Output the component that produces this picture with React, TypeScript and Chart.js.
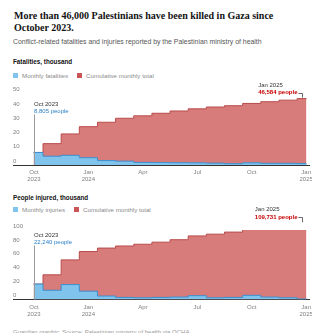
import React, { useEffect, useRef } from "react";
import { Chart, registerables } from "chart.js";

Chart.register(...registerables);

// ---------- data (thousands) ----------
const months = [
  "Oct 2023", "Nov 2023", "Dec 2023", "Jan 2024", "Feb 2024", "Mar 2024", "Apr 2024", "May 2024",
  "Jun 2024", "Jul 2024", "Aug 2024", "Sep 2024", "Oct 2024", "Nov 2024", "Dec 2024", "Jan 2025",
];
const firstDay = 16; // first day covered in the first month
const lastDay = 17; // last day covered in the last month

const monthlyFatalities = [8.8, 6.2, 6.8, 5.1, 3.1, 2.7, 1.8, 1.7, 1.6, 1.5, 1.3, 0.9, 1.5, 1.2, 1.2, 1.0];
const cumulativeFatalities = [8.8, 15.0, 21.8, 26.9, 30.0, 32.8, 34.5, 36.3, 37.9, 39.4, 40.7, 41.6, 43.2, 44.4, 45.5, 46.6];

const monthlyInjuries = [22.2, 13.3, 21.5, 12.0, 5.0, 3.0, 2.5, 3.0, 3.5, 5.5, 2.5, 3.0, 6.0, 3.5, 2.5, 0.7];
const cumulativeInjuries = [22.2, 35.5, 57.0, 69.0, 74.0, 77.0, 79.5, 82.5, 86.0, 91.5, 94.0, 97.0, 103.0, 106.5, 109.0, 109.7];

const tickMonths = [0, 3, 6, 9, 12, 15];
const tickLabels = [["Oct", "2023"], ["Jan", "2024"], ["Apr"], ["Jul"], ["Oct"], ["Jan", "2025"]];

const fatalityMax = 50;
const fatalityStep = 10;
const injuryMax = 100;
const injuryStep = 20;

// ---------- styles ----------
const SANS = '"Liberation Sans", Arial, sans-serif';
const SERIF = '"Liberation Serif", "Times New Roman", serif';
const BLUE_FILL = "#80c3ec";
const BLUE_LINE = "#3a90d2";
const RED_FILL = "#d87b7b";
const RED_LINE = "#b94c4c";
const BLUE_TEXT = "#2a80c8";
const RED_TEXT = "#c70000";
const GREY = "#808080";

function monthPos(i: number, day: number) {
  return i + (day - 1) / 31;
}

function stepPoints(values: number[]) {
  const pts = values.map((v, i) => ({ x: i === 0 ? monthPos(0, firstDay) : i, y: v }));
  pts.push({ x: monthPos(values.length - 1, lastDay), y: values[values.length - 1] });
  return pts;
}

type Panel = {
  monthly: number[];
  cumulative: number[];
  max: number;
  step: number;
  padTop: number;
  xAxisHeight: number;
  leftTitle: string;
  leftValue: string;
  leftOffset: number;
  rightTitle: string;
  rightValue: string;
};

function annotationPlugin(p: Panel) {
  return {
    id: "anno",
    afterDatasetsDraw(chart: any) {
      const { ctx, chartArea } = chart;
      const x = chart.scales.x;
      const y = chart.scales.y;
      ctx.save();
      ctx.textBaseline = "middle";
      ctx.textAlign = "left";
      // left annotation
      const lx = Math.round(x.getPixelForValue(monthPos(0, firstDay))) + 0.5;
      const l1 = chartArea.top + p.leftOffset;
      const l2 = l1 + 7;
      ctx.font = `6px ${SANS}`;
      ctx.fillStyle = "#333";
      ctx.fillText(p.leftTitle, lx - 0.5, l1);
      ctx.fillStyle = BLUE_TEXT;
      ctx.fillText(p.leftValue, lx - 0.5, l2);
      ctx.strokeStyle = "#9a9a9a";
      ctx.lineWidth = 1;
      ctx.beginPath();
      ctx.moveTo(lx, l2 + 3.5);
      ctx.lineTo(lx, chartArea.bottom);
      ctx.stroke();
      // right annotation
      const last = p.cumulative.length - 1;
      const endX = x.getPixelForValue(monthPos(last, lastDay));
      const topY = y.getPixelForValue(p.cumulative[last]);
      const leaderX = Math.round(endX - 4) + 0.5;
      const r2 = topY - 6;
      const r1 = r2 - 7.5;
      ctx.font = `bold 6px ${SANS}`;
      const w2 = ctx.measureText(p.rightValue).width;
      const textRight = leaderX - 5;
      const textLeft = textRight - w2;
      ctx.fillStyle = RED_TEXT;
      ctx.fillText(p.rightValue, textLeft, r2);
      ctx.font = `6px ${SANS}`;
      ctx.fillStyle = "#333";
      ctx.fillText(p.rightTitle, textLeft, r1);
      ctx.strokeStyle = "#666";
      ctx.beginPath();
      ctx.moveTo(textRight + 1, Math.round(r2) + 0.5);
      ctx.lineTo(leaderX, Math.round(r2) + 0.5);
      ctx.lineTo(leaderX, topY - 1);
      ctx.stroke();
      ctx.restore();
    },
  };
}

function makeConfig(p: Panel): any {
  return {
    type: "line",
    data: {
      datasets: [
        {
          label: "monthly",
          data: stepPoints(p.monthly),
          stepped: "before",
          fill: "origin",
          backgroundColor: BLUE_FILL,
          borderColor: BLUE_LINE,
          borderWidth: 1,
          pointRadius: 0,
        },
        {
          label: "cumulative",
          data: stepPoints(p.cumulative),
          stepped: "before",
          fill: "origin",
          backgroundColor: RED_FILL,
          borderColor: RED_LINE,
          borderWidth: 1,
          pointRadius: 0,
        },
      ],
    },
    options: {
      responsive: false,
      animation: false,
      events: [],
      layout: { padding: { left: 13, right: 3, top: p.padTop, bottom: 0 } },
      plugins: { legend: { display: false }, tooltip: { enabled: false } },
      scales: {
        x: {
          type: "linear",
          bounds: "data",
          min: -0.653,
          max: 15.656,
          z: 1,
          afterBuildTicks: (s: any) => {
            s.ticks = tickMonths.map((m) => ({ value: m + 0.5 }));
          },
          afterFit: (s: any) => {
            s.height = p.xAxisHeight;
            s.paddingLeft = 0;
            s.paddingRight = 0;
          },
          grid: { display: false, drawTicks: false },
          border: { display: true, color: "#333", width: 1 },
          ticks: {
            callback: (_v: any, i: number) => tickLabels[i],
            font: { size: 6, family: SANS, lineHeight: 1.2 },
            color: GREY,
            padding: 4,
            maxRotation: 0,
            autoSkip: false,
          },
        },
        y: {
          min: 0,
          max: p.max,
          afterFit: (s: any) => {
            s.width = 0;
            s.paddingTop = 0;
            s.paddingBottom = 0;
          },
          grid: { display: false, drawTicks: false },
          border: { display: false },
          ticks: {
            stepSize: p.step,
            mirror: true,
            padding: 0,
            labelOffset: -4,
            font: { size: 6, family: SANS },
            color: GREY,
          },
        },
      },
    },
    plugins: [annotationPlugin(p)],
  };
}

function PanelChart({ panel, top, height }: { panel: Panel; top: number; height: number }) {
  const ref = useRef<HTMLCanvasElement | null>(null);
  useEffect(() => {
    if (!ref.current) return;
    const chart = new Chart(ref.current, makeConfig(panel));
    return () => chart.destroy();
  }, [panel]);
  return (
    <canvas
      ref={ref}
      width={312}
      height={height}
      style={{ position: "absolute", left: 0, top, width: 312, height }}
    />
  );
}

function Legend({ top, monthlyLabel, gap }: { top: number; monthlyLabel: string; gap: number }) {
  const sq = (c: string) => (
    <span style={{ display: "inline-block", width: 5, height: 5, background: c, marginRight: 4 }} />
  );
  return (
    <div
      style={{
        position: "absolute",
        left: 13,
        top,
        height: 8,
        display: "flex",
        alignItems: "center",
        fontFamily: SANS,
        fontSize: 6.2,
        color: "#8a8a8a",
        whiteSpace: "nowrap",
      }}
    >
      {sq(BLUE_FILL)}
      <span style={{ marginRight: gap }}>{monthlyLabel}</span>
      {sq("#c95555")}
      <span>Cumulative monthly total</span>
    </div>
  );
}

const fatalPanel: Panel = {
  monthly: monthlyFatalities,
  cumulative: cumulativeFatalities,
  max: fatalityMax,
  step: fatalityStep,
  padTop: 17.75,
  xAxisHeight: 21,
  leftTitle: "Oct 2023",
  leftValue: "8,805 people",
  leftOffset: 10.25,
  rightTitle: "Jan 2025",
  rightValue: "46,584 people",
};

const injuredPanel: Panel = {
  monthly: monthlyInjuries,
  cumulative: cumulativeInjuries,
  max: injuryMax,
  step: injuryStep,
  padTop: 30,
  xAxisHeight: 21.5,
  leftTitle: "Oct 2023",
  leftValue: "22,240 people",
  leftOffset: 5,
  rightTitle: "Jan 2025",
  rightValue: "109,731 people",
};

export default function App() {
  const sub: React.CSSProperties = {
    position: "absolute",
    left: 13,
    fontFamily: SANS,
    whiteSpace: "nowrap",
  };
  return (
    <div
      style={{
        position: "absolute",
        left: 0,
        top: 0,
        width: 312,
        height: 333,
        overflow: "hidden",
        background: "#fff",
      }}
    >
      <div
        style={{
          position: "absolute",
          left: 14,
          top: 9.5,
          fontFamily: SERIF,
          fontWeight: 700,
          fontSize: 10,
          lineHeight: "12.5px",
          color: "#121212",
          whiteSpace: "nowrap",
        }}
      >
        More than 46,000 Palestinians have been killed in Gaza since
        <br />
        October 2023.
      </div>
      <div style={{ ...sub, top: 37.7, fontSize: 6.9, lineHeight: "8px", color: "#555" }}>
        Conflict-related fatalities and injuries reported by the Palestinian ministry of health
      </div>
      <div style={{ ...sub, top: 57.7, fontSize: 6.3, lineHeight: "8px", fontWeight: 700, color: "#121212" }}>
        Fatalities, thousand
      </div>
      <Legend top={71} monthlyLabel="Monthly fatalities" gap={9} />
      <PanelChart panel={fatalPanel} top={76} height={110} />

      <div style={{ ...sub, top: 193.7, fontSize: 6.3, lineHeight: "8px", fontWeight: 700, color: "#121212" }}>
        People injured, thousand
      </div>
      <Legend top={205} monthlyLabel="Monthly injuries" gap={9} />
      <PanelChart panel={injuredPanel} top={200} height={121} />

      <div style={{ ...sub, top: 328, fontSize: 6, lineHeight: "8px", color: "#9a9a9a" }}>
        Guardian graphic. Source: Palestinian ministry of health via OCHA
      </div>
    </div>
  );
}
